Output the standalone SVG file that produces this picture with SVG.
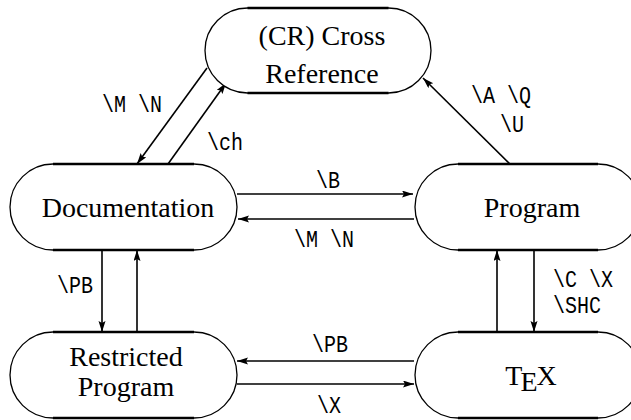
<svg xmlns="http://www.w3.org/2000/svg" width="631" height="420" viewBox="0 0 631 420">
<style>
.arc{fill:#fff;stroke:#000;stroke-width:1.3}
.flat{stroke:#000;stroke-width:2.4}
.nt{font-family:"Liberation Serif","Times New Roman",serif;font-size:28px;fill:#000;text-anchor:middle}
.lb{font-family:"Liberation Mono","Courier New",monospace;font-size:20px;fill:#000}
.c{fill:none;stroke:#000;stroke-width:1.6}
</style>
<defs>
<marker id="ah" markerUnits="userSpaceOnUse" markerWidth="12" markerHeight="8" refX="11" refY="3.5" orient="auto">
<path d="M0,0 L11,3.5 L0,7 L2,3.5 Z" fill="#000"/>
</marker>
</defs>
<g id="connectors">
<path class="c" d="M237,194 H413" marker-end="url(#ah)"/>
<path class="c" d="M414,219 H238" marker-end="url(#ah)"/>
<path class="c" d="M102,250 V332" marker-end="url(#ah)"/>
<path class="c" d="M137,332 V250" marker-end="url(#ah)"/>
<path class="c" d="M414,361 H237" marker-end="url(#ah)"/>
<path class="c" d="M237,384 H414" marker-end="url(#ah)"/>
<path class="c" d="M497,332 V250" marker-end="url(#ah)"/>
<path class="c" d="M534,250 V332" marker-end="url(#ah)"/>
<path class="c" d="M207,68 L137,164" marker-end="url(#ah)"/>
<path class="c" d="M168,164 L226,83" marker-end="url(#ah)"/>
<path class="c" d="M511,165 L423,78" marker-end="url(#ah)"/>
<g class="lb">
<text transform="translate(316,188) scale(1,1.2)">\B</text>
<text transform="translate(294,247) scale(1,1.2)">\M \N</text>
<text transform="translate(312,352) scale(1,1.2)">\PB</text>
<text transform="translate(317,413) scale(1,1.2)">\X</text>
<text transform="translate(57,293) scale(1,1.2)">\PB</text>
<text transform="translate(553,287) scale(1,1.2)">\C \X</text>
<text transform="translate(553,313) scale(1,1.2)">\SHC</text>
<text transform="translate(102,112) scale(1,1.2)">\M \N</text>
<text transform="translate(207,150) scale(1,1.2)">\ch</text>
<text transform="translate(471,103) scale(1,1.2)">\A \Q</text>
<text transform="translate(500,132) scale(1,1.2)">\U</text>
</g>
</g>
<g id="cr">
<path class="arc" d="M247.5,8 H388.5 A42.5,42.5 0 0 1 388.5,93 H247.5 A42.5,42.5 0 0 1 247.5,8 Z"/>
<path class="flat" d="M247.5,8 H388.5 M247.5,93 H388.5"/>
<text class="nt" x="322" y="45">(CR) Cross</text>
<text class="nt" x="322" y="83">Reference</text>
</g>
<g id="documentation">
<path class="arc" d="M53,164 H194 A43,43 0 0 1 194,250 H53 A43,43 0 0 1 53,164 Z"/>
<path class="flat" d="M53,164 H194 M53,250 H194"/>
<text class="nt" x="128" y="217">Documentation</text>
</g>
<g id="program">
<path class="arc" d="M458,164 H598 A43,43 0 0 1 598,250 H458 A43,43 0 0 1 458,164 Z"/>
<path class="flat" d="M458,164 H598 M458,250 H598"/>
<text class="nt" x="532" y="217">Program</text>
</g>
<g id="restricted">
<path class="arc" d="M53,332 H194 A43,43 0 0 1 194,418 H53 A43,43 0 0 1 53,332 Z"/>
<path class="flat" d="M53,332 H194 M53,418 H194"/>
<text class="nt" x="126" y="366">Restricted</text>
<text class="nt" x="126" y="396">Program</text>
</g>
<g id="tex">
<path class="arc" d="M458,332 H598 A43,43 0 0 1 598,418 H458 A43,43 0 0 1 458,332 Z"/>
<path class="flat" d="M458,332 H598 M458,418 H598"/>
<text class="nt" x="531" y="385">T<tspan dx="-2" dy="6">E</tspan><tspan dx="-1" dy="-6">X</tspan></text>
</g>
</svg>
